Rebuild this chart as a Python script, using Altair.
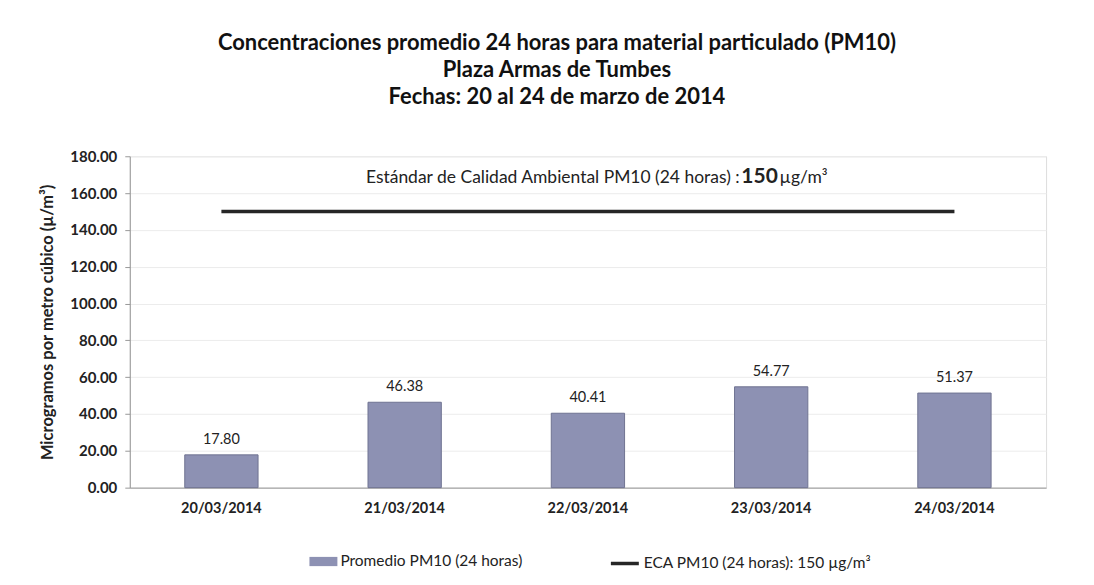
import altair as alt
import pandas as pd

fechas = ["20/03/2014", "21/03/2014", "22/03/2014", "23/03/2014", "24/03/2014"]
promedio = [17.80, 46.38, 40.41, 54.77, 51.37]
eca = [150, 150, 150, 150, 150]
serie_bar = "Promedio PM10 (24 horas)"
serie_line = "ECA PM10 (24 horas): 150 µg/m³"
titulo = [
    "Concentraciones promedio 24 horas para material particulado (PM10)",
    "Plaza Armas de  Tumbes",
    "Fechas: 20 al 24 de marzo de 2014",
]
y_titulo = "Microgramos por metro cúbico (µ/m³)"
nota_1 = "Estándar de Calidad Ambiental PM10 (24 horas) : "
nota_2 = "150"
nota_3 = "µg/m³"
y_ticks = [0, 20, 40, 60, 80, 100, 120, 140, 160, 180]

FONT = "Lato"
BAR = "#8d91b3"
LINE = "#262626"

df_bar = pd.DataFrame({"fecha": fechas, "valor": promedio, "serie": serie_bar})
df_line = pd.DataFrame({"fecha": fechas, "valor": eca, "serie": serie_line})
df_note = pd.DataFrame({"fecha": [fechas[2]], "valor": [168],
                        "t1": [nota_1], "t2": [nota_2], "t3": [nota_3]})

x_enc = alt.X("fecha:N", sort=fechas, title=None,
              scale=alt.Scale(paddingInner=0.6, paddingOuter=0.3),
              axis=alt.Axis(labelAngle=0, labelFont=FONT, labelFontSize=14.5,
                            labelFontWeight="bold", labelColor="#222",
                            labelPadding=14, ticks=False, domainColor="#999"))
y_enc = alt.Y("valor:Q", title=y_titulo,
              scale=alt.Scale(domain=[0, 180], nice=False, zero=True),
              axis=alt.Axis(values=y_ticks, format=".2f", labelFont=FONT,
                            labelFontSize=15, labelFontWeight="bold",
                            labelColor="#222", labelOverlap=False,
                            labelFlush=False, labelBound=False,
                            labelPadding=8,
                            titleFont=FONT, titleFontSize=16.5,
                            titleFontWeight="bold", titleColor="#222",
                            titlePadding=14, tickColor="#999", tickSize=5,
                            domainColor="#999", gridColor="#ececec"))

legend_common = dict(title=None, orient="none", direction="horizontal",
                     labelFont=FONT, labelFontSize=15.5, labelColor="#222",
                     labelLimit=400, symbolSize=784, symbolOffset=0,
                     padding=0, labelOffset=3)

fill_enc = alt.Fill(
    "serie:N",
    scale=alt.Scale(domain=[serie_bar], range=[BAR]),
    legend=alt.Legend(symbolType="M-1,-0.33L1,-0.33L1,0.33L-1,0.33Z",
                      symbolStrokeWidth=0, legendX=180, legendY=392,
                      **legend_common),
)
stroke_enc = alt.Stroke(
    "serie:N",
    scale=alt.Scale(domain=[serie_line], range=[LINE]),
    legend=alt.Legend(symbolType="stroke", symbolStrokeWidth=3.5,
                      legendX=480, legendY=392, **legend_common),
)

bars = alt.Chart(df_bar).mark_bar(stroke="#6f7392", strokeWidth=1).encode(
    x=x_enc, y=y_enc, fill=fill_enc)

labels = alt.Chart(df_bar).mark_text(font=FONT, fontSize=14.5, color="#222",
                                     dy=-15).encode(
    x=x_enc, y=y_enc, text=alt.Text("valor:Q", format=".2f"))

line = alt.Chart(df_line).mark_line(strokeWidth=3.5).encode(
    x=x_enc, y=y_enc, stroke=stroke_enc)

n1 = alt.Chart(df_note).mark_text(font=FONT, fontSize=17.5, color="#222",
                                  align="right", dx=152).encode(
    x=x_enc, y=y_enc, text="t1:N")
n2 = alt.Chart(df_note).mark_text(font=FONT, fontSize=21, fontWeight="bold",
                                  color="#222", align="center", dx=172, dy=-1).encode(
    x=x_enc, y=y_enc, text="t2:N")
n3 = alt.Chart(df_note).mark_text(font=FONT, fontSize=17.5, color="#222",
                                  align="left", dx=192).encode(
    x=x_enc, y=y_enc, text="t3:N")

chart = alt.layer(bars, labels, line, n1, n2, n3).properties(
    width=918, height=332,
    title=alt.TitleParams(text=titulo, font=FONT, fontSize=22,
                          fontWeight="bold", color="#111", lineHeight=27,
                          anchor="middle", dx=-31, offset=40),
    autosize=alt.AutoSizeParams(type="none"),
    padding={"left": 122, "top": 148, "right": 40, "bottom": 95},
).configure_view(stroke="#bbbbbb", strokeWidth=1).configure(background="white")

chart.save("out.html", embed_options={"renderer": "svg", "actions": False})
